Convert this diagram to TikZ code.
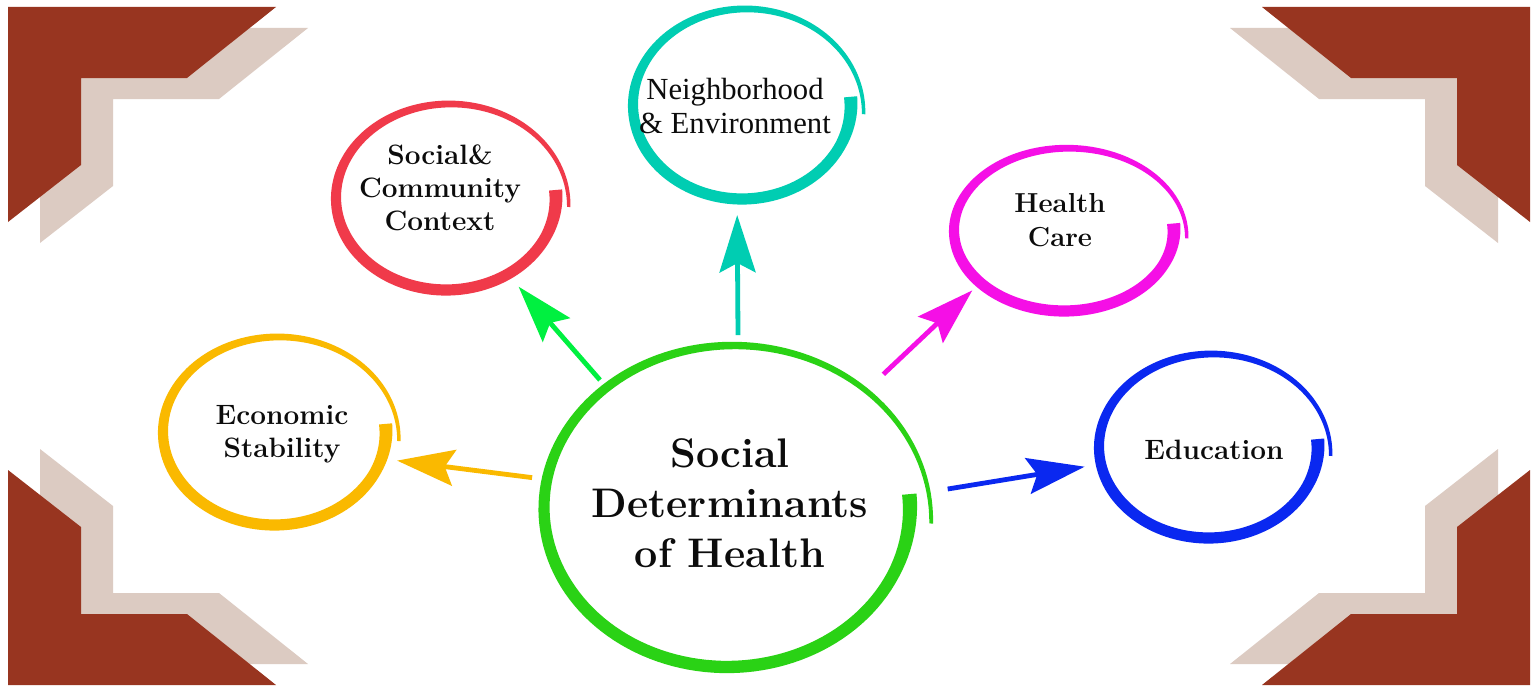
\documentclass[tikz,border=0pt]{standalone}
\usepackage{fontspec}
\usetikzlibrary{arrows.meta,shapes.geometric}

\newfontfamily\nbhfont{Liberation Serif}

\definecolor{cornerdark}{RGB}{152,53,32}
\definecolor{cornerlight}{RGB}{220,203,194}
\definecolor{sdhgreen}{RGB}{42,210,21}
\definecolor{arrgreen}{RGB}{0,240,64}
\definecolor{ecoyellow}{RGB}{250,185,0}
\definecolor{socred}{RGB}{240,58,74}
\definecolor{nbhteal}{RGB}{0,205,178}
\definecolor{hcmagenta}{RGB}{245,15,230}
\definecolor{edublue}{RGB}{10,40,240}
\definecolor{txtblack}{RGB}{12,12,12}

% brush width and outward drift of the hand drawn rings
\tikzset{declare function={
  ringw(\t)=1.12+0.2*max(0,(25-\t)/30)-0.78*max(0,(\t-150)/215);
  ringg(\t)=1+0.12*max(0,(\t-200)/165)*max(0,(\t-200)/165);}}

% #1 colour, #2 #3 centre, #4 #5 radii, #6 brush width
\newcommand{\brushring}[6]{%
  \fill[#1] plot[domain=-5:365,samples=150,variable=\t]
    ({#2+(#4*ringg(\t)+0.5*#6*ringw(\t))*cos(\t)},{#3+(#5*ringg(\t)+0.5*#6*ringw(\t))*sin(\t)})
    -- plot[domain=365:-5,samples=150,variable=\t]
    ({#2+(#4*ringg(\t)-0.5*#6*ringw(\t))*cos(\t)},{#3+(#5*ringg(\t)-0.5*#6*ringw(\t))*sin(\t)})
    -- cycle;}

\begin{document}
\begin{tikzpicture}[x=0.75pt,y=0.75pt,yscale=-1,xscale=1,
  ring/.style={ellipse,draw=none,inner sep=0pt,outer sep=0pt},
  lbl/.style={align=center,text=txtblack,font=\bfseries\fontsize{21}{24.75}\selectfont},
  arr/.style={line width=3.6pt,-{Stealth[length=43pt,width=27pt,inset=7pt]}}]
\useasboundingbox (0,0) rectangle (1540,685);
\fill[white] (0,0) rectangle (1540,685);

%Shape: corner frames
\foreach \sx/\sy/\dx/\dy in {1/1/0/0,-1/1/1538/0,1/-1/0/692,-1/-1/1538/692}{
  \begin{scope}[shift={(\dx,\dy)},xscale=\sx,yscale=\sy]
    \fill[cornerlight] (40,28) -- (308,28) -- (219,99) -- (113,99) -- (113,186) -- (40,243) -- cycle;
    \fill[cornerdark] (8,7) -- (276,7) -- (187,78) -- (81,78) -- (81,165) -- (8,222) -- cycle;
  \end{scope}}

%Shape: brush rings
\brushring{sdhgreen}{727}{508}{183}{159}{11}
\brushring{ecoyellow}{274.5}{432}{111.5}{93}{10}
\brushring{socred}{446}{198}{110}{92}{10}
\brushring{nbhteal}{742}{105}{109}{94}{10}
\brushring{hcmagenta}{1064}{230.5}{110}{80.5}{10}
\brushring{edublue}{1208.5}{447}{109.5}{91}{10}

% Ring nodes
\node[ring,minimum width=274.5pt,minimum height=238.5pt] (sdh) at (727,508) {};
\node[ring,minimum width=167.25pt,minimum height=139.5pt] (econ) at (274.5,432) {};
\node[ring,minimum width=165pt,minimum height=138pt] (soc) at (446,198) {};
\node[ring,minimum width=163.5pt,minimum height=141pt] (nbh) at (742,105) {};
\node[ring,minimum width=165pt,minimum height=120.75pt] (hc) at (1064,230.5) {};
\node[ring,minimum width=164.25pt,minimum height=136.5pt] (edu) at (1208.5,447) {};

% Text Node
\node[lbl,font=\bfseries\fontsize{31}{37.5}\selectfont] (sdh-t) at (730,503) {Social\\Determinants\\of Health};
% Text Node
\node[lbl] (econ-t) at (282,434.5) {Economic\\Stability};
% Text Node
\node[lbl] (soc-t) at (440,187.3) {Social\&\\Community\\Context};
% Text Node
\node[lbl,font=\nbhfont\fontsize{23}{25.5}\selectfont] (nbh-t) at (735,106) {Neighborhood\\\& Environment};
% Text Node
\node[lbl,font=\bfseries\fontsize{20.6}{25.5}\selectfont] (hc-t) at (1060,220.5) {Health\\Care};
% Text Node
\node[lbl] (edu-t) at (1214,450.3) {Education};

%Straight Lines: arrows
\draw[arr,ecoyellow,shorten <=11.25pt,shorten >=11.9pt] (sdh.171.1) -- (econ.-14.2);
\draw[arr,arrgreen,shorten <=7.95pt,shorten >=12.45pt] (sdh.135) -- (soc.-51.45);
\draw[arr,nbhteal,shorten <=10.65pt,shorten >=12.1pt] (sdh.86.76) -- (nbh.-93.66);
\draw[arr,hcmagenta,shorten <=25.5pt,shorten >=8.3pt] (sdh.40.26) -- (hc.212.6);
\draw[arr,edublue,shorten <=29.1pt,shorten >=12.4pt] (sdh.4.94) -- (edu.189.9);

\end{tikzpicture}
\end{document}
